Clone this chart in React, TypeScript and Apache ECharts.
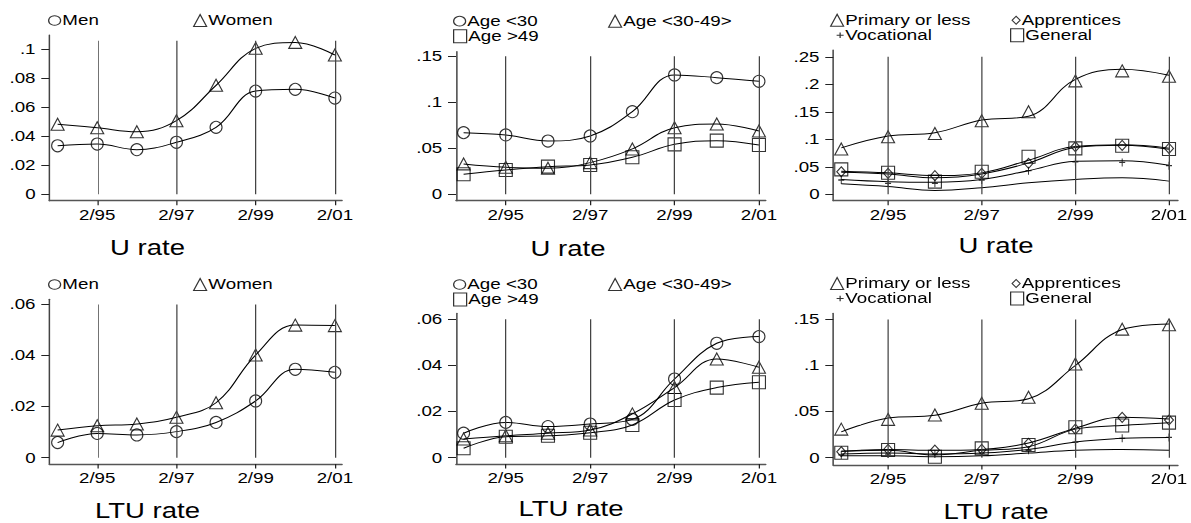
import React, { useEffect, useRef } from 'react';
import * as echarts from 'echarts';

const S = 1.25; // horizontal stretch of the whole figure (wide text)
const WIDTH = 1191;
const HEIGHT = 523;
const FONT = '"Liberation Sans", Arial, Helvetica, sans-serif';

const years = [1994, 1995, 1996, 1997, 1998, 1999, 2000, 2001];
const xTickValues = [1995, 1997, 1999, 2001];

// ---- U rate, by gender
const uMen = [0.0335, 0.0347, 0.0308, 0.0359, 0.0462, 0.0712, 0.0724, 0.0664];
const uWomen = [0.0483, 0.0459, 0.0432, 0.0508, 0.0752, 0.1007, 0.1048, 0.0961];
// ---- U rate, by age
const uAgeUnder30 = [0.067, 0.0645, 0.0579, 0.0634, 0.0898, 0.1297, 0.1268, 0.1228];
const uAge30to49 = [0.033, 0.0293, 0.0283, 0.0344, 0.0493, 0.0724, 0.0764, 0.0688];
const uAgeOver49 = [0.0217, 0.0264, 0.03, 0.0318, 0.0402, 0.0543, 0.0583, 0.0536];
// ---- U rate, by education (markers)
const uPrimary = [0.0823, 0.1047, 0.1107, 0.1337, 0.15, 0.2063, 0.2245, 0.2148];
const uApprentices = [0.0411, 0.0381, 0.0339, 0.0381, 0.0563, 0.0865, 0.0889, 0.0835];
const uVocational = [0.026, 0.02, 0.02, 0.026, 0.043, 0.059, 0.058, 0.052];
const uGeneral = [0.0454, 0.0393, 0.023, 0.0411, 0.0684, 0.0835, 0.0883, 0.0823];
// ---- U rate, by education (smoothed lines)
const uPrimaryLine = [0.0845, 0.106, 0.112, 0.135, 0.142, 0.209, 0.2275, 0.2166];
const uApprenticesLine = [0.042, 0.039, 0.034, 0.039, 0.062, 0.087, 0.09, 0.084];
const uGeneralLine = [0.04, 0.037, 0.03, 0.037, 0.057, 0.085, 0.089, 0.082];
const uVocationalLine = [0.027, 0.023, 0.022, 0.027, 0.043, 0.06, 0.061, 0.053];
const uFifthLine = [0.019, 0.014, 0.007, 0.012, 0.021, 0.027, 0.03, 0.024];

// ---- LTU rate, by gender
const ltuMen = [0.0059, 0.0095, 0.0089, 0.0102, 0.0138, 0.0222, 0.0346, 0.0334];
const ltuWomen = [0.0108, 0.0125, 0.0132, 0.0158, 0.0215, 0.0402, 0.0519, 0.0517];
// ---- LTU rate, by age
const ltuAgeUnder30 = [0.0106, 0.0153, 0.0135, 0.0146, 0.0166, 0.0341, 0.0496, 0.0525];
const ltuAge30to49 = [0.0081, 0.0095, 0.0106, 0.012, 0.019, 0.0304, 0.0428, 0.0392];
const ltuAgeOver49 = [0.0041, 0.0091, 0.0095, 0.0108, 0.0142, 0.025, 0.0304, 0.0327];
// ---- LTU rate, by education (markers)
const ltuPrimary = [0.031, 0.0416, 0.0463, 0.059, 0.0655, 0.1017, 0.1394, 0.1441];
const ltuApprentices = [0.0065, 0.009, 0.0083, 0.009, 0.0156, 0.031, 0.0438, 0.0409];
const ltuVocational = [0.003, 0.004, 0.004, 0.005, 0.008, 0.017, 0.021, 0.022];
const ltuGeneral = [0.0054, 0.0083, 0.001, 0.0101, 0.0138, 0.033, 0.035, 0.038];
// ---- LTU rate, by education (smoothed lines)
const ltuPrimaryLine = [0.028, 0.043, 0.046, 0.059, 0.064, 0.1, 0.139, 0.145];
const ltuApprenticesLine = [0.007, 0.009, 0.008, 0.009, 0.016, 0.032, 0.044, 0.042];
const ltuGeneralLine = [0.007, 0.008, 0.003, 0.008, 0.012, 0.031, 0.035, 0.038];
const ltuVocationalLine = [0.004, 0.005, 0.004, 0.005, 0.009, 0.017, 0.021, 0.022];
const ltuFifthLine = [0.002, 0.002, 0.001, 0.002, 0.005, 0.008, 0.009, 0.008];

// ---- y tick values per panel
const yTicksU1 = [0, 0.02, 0.04, 0.06, 0.08, 0.1];
const yTicksU2 = [0, 0.05, 0.1, 0.15];
const yTicksU3 = [0, 0.05, 0.1, 0.15, 0.2, 0.25];
const yTicksL1 = [0, 0.02, 0.04, 0.06];
const yTicksL2 = [0, 0.02, 0.04, 0.06];
const yTicksL3 = [0, 0.05, 0.1, 0.15];

const MARKERS: Record<string, { symbol: string; w: number; h: number }> = {
  circle: { symbol: 'circle', w: 12, h: 12 },
  triangle: { symbol: 'triangle', w: 13, h: 12 },
  square: { symbol: 'rect', w: 13, h: 13 },
  diamond: { symbol: 'diamond', w: 9, h: 10 },
  plus: { symbol: 'path://M5,0L5,10M0,5L10,5', w: 6, h: 8 },
};
const LEGEND_ICONS: Record<string, { symbol: string; w: number; h: number }> = {
  circle: { symbol: 'circle', w: 12, h: 12 },
  triangle: { symbol: 'triangle', w: 13, h: 12 },
  square: { symbol: 'rect', w: 13, h: 13 },
  diamond: { symbol: 'diamond', w: 8, h: 8 },
  plus: { symbol: 'path://M5,0L5,10M0,5L10,5', w: 7, h: 8 },
};

type SeriesDef = { name: string; marker?: string; points?: number[]; line?: number[] };
type LegendDef = { name: string; marker: string; x: number; y: number };
type Panel = {
  title: string;
  titleX: number;
  titleY: number;
  left: number;
  right: number;
  top: number;
  bottom: number;
  xMin: number;
  xMax: number;
  yMin: number;
  yMax: number;
  yTicks: number[];
  vTop: number;
  series: SeriesDef[];
  legend: LegendDef[];
};

const genderSeries = (men: number[], women: number[]): SeriesDef[] => [
  { name: 'Men', marker: 'circle', points: men, line: men },
  { name: 'Women', marker: 'triangle', points: women, line: women },
];
const ageSeries = (a: number[], b: number[], c: number[]): SeriesDef[] => [
  { name: 'Age <30', marker: 'circle', points: a, line: a },
  { name: 'Age <30-49>', marker: 'triangle', points: b, line: b },
  { name: 'Age >49', marker: 'square', points: c, line: c },
];

const panels: Panel[] = [
  {
    title: 'U rate', titleX: 147.5, titleY: 247.5,
    left: 49.3, right: 342, top: 35, bottom: 200.7,
    xMin: 1993.79, xMax: 2001.18, yMin: -0.0044, yMax: 0.1099,
    yTicks: yTicksU1, vTop: 0.106,
    series: genderSeries(uMen, uWomen),
    legend: [
      { name: 'Men', marker: 'circle', x: 48, y: 21 },
      { name: 'Women', marker: 'triangle', x: 193, y: 21 },
    ],
  },
  {
    title: 'U rate', titleX: 568, titleY: 248,
    left: 456, right: 765.7, top: 51.7, bottom: 200.7,
    xMin: 1993.82, xMax: 2001.16, yMin: -0.007, yMax: 0.155,
    yTicks: yTicksU2, vTop: 0.15,
    series: ageSeries(uAgeUnder30, uAge30to49, uAgeOver49),
    legend: [
      { name: 'Age <30', marker: 'circle', x: 453, y: 21.7 },
      { name: 'Age <30-49>', marker: 'triangle', x: 608, y: 21.7 },
      { name: 'Age >49', marker: 'square', x: 453, y: 36.7 },
    ],
  },
  {
    title: 'U rate', titleX: 996, titleY: 245.5,
    left: 833.3, right: 1191, top: 50, bottom: 200.7,
    xMin: 1993.83, xMax: 2001.19, yMin: -0.0116, yMax: 0.2624,
    yTicks: yTicksU3, vTop: 0.25,
    series: [
      { name: 'Primary or less', marker: 'triangle', points: uPrimary, line: uPrimaryLine },
      { name: 'Apprentices', marker: 'diamond', points: uApprentices, line: uApprenticesLine },
      { name: 'Vocational', marker: 'plus', points: uVocational, line: uVocationalLine },
      { name: 'General', marker: 'square', points: uGeneral, line: uGeneralLine },
      { name: 'U other', line: uFifthLine },
    ],
    legend: [
      { name: 'Primary or less', marker: 'triangle', x: 830, y: 20.7 },
      { name: 'Apprentices', marker: 'diamond', x: 1011.5, y: 20.7 },
      { name: 'Vocational', marker: 'plus', x: 836, y: 35.7 },
      { name: 'General', marker: 'square', x: 1010, y: 35.7 },
    ],
  },
  {
    title: 'LTU rate', titleX: 147.5, titleY: 510,
    left: 49.3, right: 342, top: 299.3, bottom: 464,
    xMin: 1993.79, xMax: 2001.18, yMin: -0.00247, yMax: 0.062,
    yTicks: yTicksL1, vTop: 0.06,
    series: genderSeries(ltuMen, ltuWomen),
    legend: [
      { name: 'Men', marker: 'circle', x: 48, y: 285 },
      { name: 'Women', marker: 'triangle', x: 193, y: 285 },
    ],
  },
  {
    title: 'LTU rate', titleX: 571, titleY: 508.5,
    left: 456, right: 765.7, top: 313.3, bottom: 464,
    xMin: 1993.82, xMax: 2001.16, yMin: -0.00273, yMax: 0.0626,
    yTicks: yTicksL2, vTop: 0.06,
    series: ageSeries(ltuAgeUnder30, ltuAge30to49, ltuAgeOver49),
    legend: [
      { name: 'Age <30', marker: 'circle', x: 453, y: 285 },
      { name: 'Age <30-49>', marker: 'triangle', x: 608, y: 285 },
      { name: 'Age >49', marker: 'square', x: 453, y: 300 },
    ],
  },
  {
    title: 'LTU rate', titleX: 996, titleY: 511.5,
    left: 833.3, right: 1191, top: 313.3, bottom: 465,
    xMin: 1993.83, xMax: 2001.19, yMin: -0.0079, yMax: 0.1566,
    yTicks: yTicksL3, vTop: 0.15,
    series: [
      { name: 'Primary or less', marker: 'triangle', points: ltuPrimary, line: ltuPrimaryLine },
      { name: 'Apprentices', marker: 'diamond', points: ltuApprentices, line: ltuApprenticesLine },
      { name: 'Vocational', marker: 'plus', points: ltuVocational, line: ltuVocationalLine },
      { name: 'General', marker: 'square', points: ltuGeneral, line: ltuGeneralLine },
      { name: 'LTU other', line: ltuFifthLine },
    ],
    legend: [
      { name: 'Primary or less', marker: 'triangle', x: 830, y: 284 },
      { name: 'Apprentices', marker: 'diamond', x: 1011.5, y: 284 },
      { name: 'Vocational', marker: 'plus', x: 836, y: 299 },
      { name: 'General', marker: 'square', x: 1010, y: 299 },
    ],
  },
];

const fmtY = (v: number) => {
  if (Math.abs(v) < 1e-9) return '0';
  return String(+v.toFixed(3)).replace(/^0\./, '.');
};
const fmtX = (v: number) => '2/' + String(Math.round(v)).slice(2);

function buildOption() {
  const grid: any[] = [];
  const xAxis: any[] = [];
  const yAxis: any[] = [];
  const series: any[] = [];
  const legend: any[] = [];
  const graphic: any[] = [];

  panels.forEach((p, i) => {
    grid.push({
      left: p.left / S,
      top: p.top,
      width: (p.right - p.left) / S,
      height: p.bottom - p.top,
      containLabel: false,
    });
    xAxis.push({
      type: 'value',
      gridIndex: i,
      min: p.xMin,
      max: p.xMax,
      splitLine: { show: false },
      axisLine: { show: true, onZero: false, lineStyle: { color: '#555', width: 1.3 } },
      axisTick: { show: true, length: 4.5, customValues: xTickValues, lineStyle: { color: '#222', width: 1 } },
      axisLabel: {
        show: true,
        customValues: xTickValues,
        formatter: fmtX,
        margin: 7,
        color: '#000',
        fontSize: 15,
        fontFamily: FONT,
      },
    });
    yAxis.push({
      type: 'value',
      gridIndex: i,
      min: p.yMin,
      max: p.yMax,
      splitLine: { show: false },
      axisLine: { show: true, onZero: false, lineStyle: { color: '#444', width: 1.2 } },
      axisTick: { show: true, length: 6.4, customValues: p.yTicks, lineStyle: { color: '#222', width: 1 } },
      axisLabel: {
        show: true,
        customValues: p.yTicks,
        formatter: fmtY,
        margin: 11,
        color: '#000',
        fontSize: 15,
        fontFamily: FONT,
      },
    });

    // vertical reference lines, carried by a marker-less helper series
    series.push({
      type: 'line',
      name: 'ref' + i,
      xAxisIndex: i,
      yAxisIndex: i,
      data: [],
      silent: true,
      markLine: {
        silent: true,
        symbol: ['none', 'none'],
        label: { show: false },
        lineStyle: { color: '#444', width: 1, type: 'solid' },
        data: xTickValues.map((t) => [{ coord: [t, 0] }, { coord: [t, p.vTop] }]),
      },
    });

    p.series.forEach((s) => {
      if (s.line) {
        series.push({
          type: 'line',
          name: s.name + ' (line ' + i + ')',
          xAxisIndex: i,
          yAxisIndex: i,
          smooth: 0.4,
          showSymbol: false,
          silent: true,
          lineStyle: { color: '#000', width: 1 },
          data: years.map((y, k) => [y, s.line![k]]),
          z: 3,
        });
      }
      if (s.points && s.marker) {
        const m = MARKERS[s.marker];
        series.push({
          type: 'scatter',
          name: s.name,
          xAxisIndex: i,
          yAxisIndex: i,
          symbol: m.symbol,
          symbolSize: [m.w / S, m.h],
          silent: true,
          itemStyle: { color: 'transparent', borderColor: '#000', borderWidth: 1 },
          data: years.map((y, k) => [y, s.points![k]]),
          z: 4,
        });
      }
    });

    p.legend.forEach((l) => {
      const ic = LEGEND_ICONS[l.marker];
      legend.push({
        show: true,
        data: [{ name: l.name, icon: ic.symbol }],
        left: l.x / S,
        top: l.y - 8,
        padding: 0,
        itemGap: 0,
        itemWidth: ic.w / S,
        itemHeight: ic.h,
        selectedMode: false,
        itemStyle: { color: 'transparent', borderColor: '#000', borderWidth: 1 },
        textStyle: { color: '#000', fontSize: 15, fontFamily: FONT, padding: [0, 0, 0, -3.6] },
      });
    });

    graphic.push({
      type: 'text',
      x: p.titleX / S,
      y: p.titleY,
      style: {
        text: p.title,
        fill: '#000',
        font: '22px ' + FONT,
        textAlign: 'center',
        textVerticalAlign: 'middle',
      },
    });
  });

  return {
    animation: false,
    backgroundColor: '#fff',
    grid,
    xAxis,
    yAxis,
    legend,
    series,
    graphic,
  };
}

export default function App() {
  const ref = useRef<HTMLDivElement>(null);
  useEffect(() => {
    if (!ref.current) return;
    const chart = echarts.init(ref.current, undefined, {
      renderer: 'svg',
      width: WIDTH / S,
      height: HEIGHT,
    });
    chart.setOption(buildOption());
    return () => chart.dispose();
  }, []);
  return (
    <div
      style={{
        position: 'fixed',
        left: 0,
        top: 0,
        width: WIDTH,
        height: HEIGHT,
        overflow: 'hidden',
        background: '#fff',
      }}
    >
      <div
        ref={ref}
        style={{
          width: WIDTH / S,
          height: HEIGHT,
          transform: `scaleX(${S})`,
          transformOrigin: '0 0',
        }}
      />
    </div>
  );
}
